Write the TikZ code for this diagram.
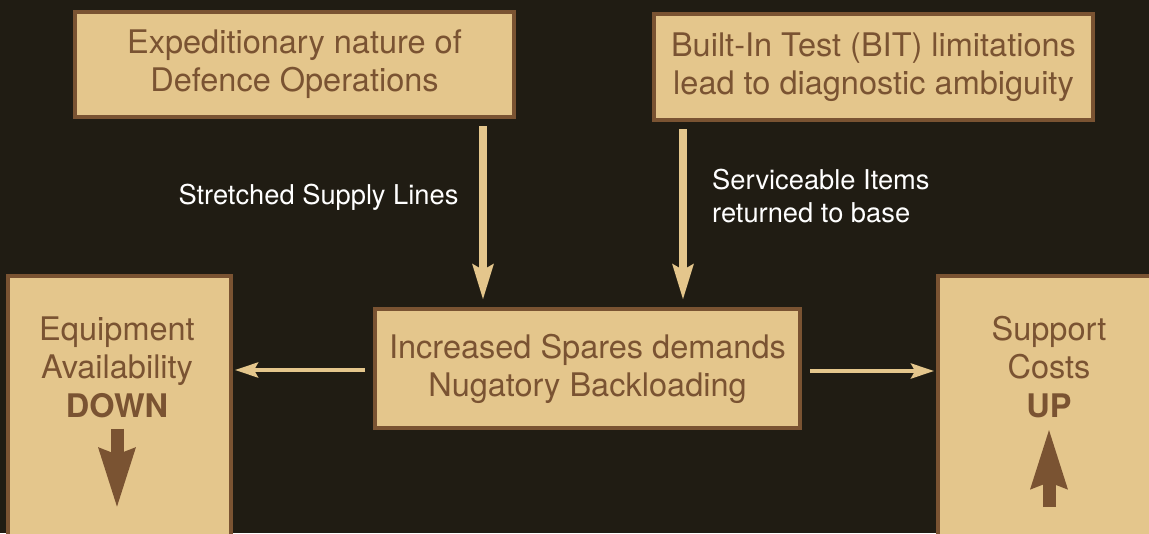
\documentclass[tikz,border=0pt]{standalone}
\usepackage{fontspec}
\setmainfont{TeX Gyre Heros}
\usetikzlibrary{arrows.meta,positioning}
\definecolor{bgdark}{HTML}{201C13}
\definecolor{sand}{HTML}{E4C68C}
\definecolor{umber}{HTML}{7A5332}

\begin{document}
\begin{tikzpicture}[
  x=1pt, y=1pt,
  box/.style={draw=umber, line width=4pt, fill=sand, text=umber, align=center,
    font=\fontsize{32.5}{38}\selectfont, inner sep=0pt},
  boxtext/.style={text=umber, align=center, font=\fontsize{32.5}{38.5}\selectfont, inner sep=0pt},
  note/.style={text=white, font=\fontsize{27.3}{32.5}\selectfont, inner sep=0pt},
  feed/.style={draw=sand, line width=8pt, shorten <=7pt, shorten >=7pt,
    -{Stealth[length=35pt, width=20pt, inset=5pt]}},
  side/.style={draw=sand, line width=4pt, shorten <=8pt, shorten >=2pt,
    -{Stealth[length=23pt, width=15pt, inset=4pt]}},
  trend/.style={draw=umber, line width=13pt,
    -{Stealth[length=59pt, width=34pt, inset=5pt]}},
]
\useasboundingbox (0,0) rectangle (1149,-533);
\clip (0,0) rectangle (1149,-533);
\fill[bgdark] (0,0) rectangle (1149,-533);

\node[box, minimum width=439pt, minimum height=105pt] (exped) at (294.5,-64.5)
  {Expeditionary nature of\\Defence Operations};
\node[box, minimum width=439pt, minimum height=106pt] (bit) at (873.5,-67)
  {Built-In Test (BIT) limitations\\lead to diagnostic ambiguity};
\node[box, minimum width=425pt, minimum height=119pt] (spares) at (587.5,-368.5)
  {Increased Spares demands\\Nugatory Backloading};
\node[box, minimum width=223pt, minimum height=300pt, anchor=north] (equip) at (119.5,-274) {};
\node[box, minimum width=223pt, minimum height=300pt, anchor=north] (cost) at (1049.5,-274) {};

\node[boxtext] (equiptxt) at (117,-367) {Equipment\\Availability\\\textbf{DOWN}};
\node[boxtext] (costtxt) at (1049,-367) {Support\\Costs\\\textbf{UP}};
\draw[trend] ([yshift=-11pt]equiptxt.south) -- ++(0,-80);
\draw[trend] ([yshift=-89pt]costtxt.south) -- ++(0,79);

\coordinate (feedA) at ([xshift=110pt]spares.north west);
\coordinate (feedB) at ([xshift=-119pt]spares.north east);
\draw[feed] (exped.south -| feedA) -- (feedA);
\draw[feed] (bit.south -| feedB) -- (feedB);

\node[note] (stretch) at (318.5,-197) {Stretched Supply Lines};
\node[note, align=left, anchor=west] (serv) at (712,-196) {Serviceable Items\\returned to base};

\draw[side] ([yshift=-1.5pt]spares.west) -- ([yshift=-1.5pt]spares.west -| equip.east);
\draw[side] ([yshift=-2.5pt]spares.east) -- ([yshift=-2.5pt]spares.east -| cost.west);
\end{tikzpicture}
\end{document}
